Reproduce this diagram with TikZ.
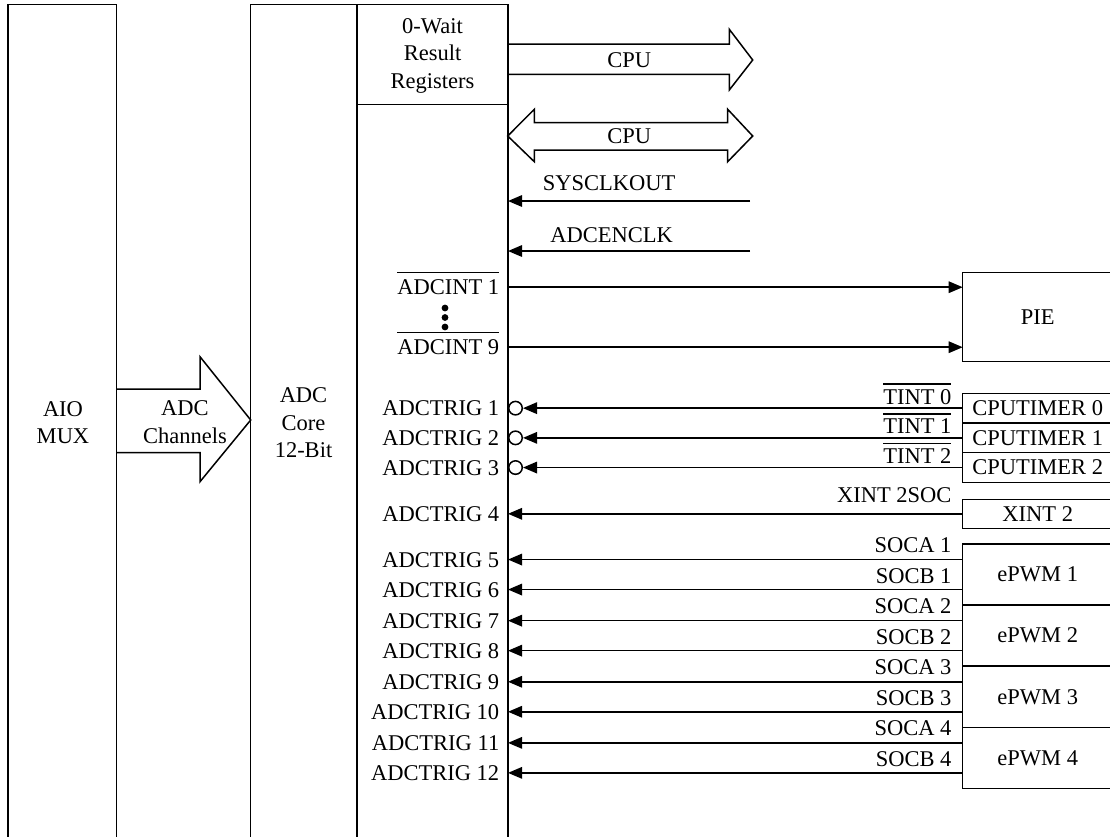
\documentclass[tikz,border=0pt]{standalone}
\usepackage{fontspec}
\setmainfont{Liberation Serif}
\usepackage{tikz}
\usetikzlibrary{arrows.meta,calc,positioning}
\newcommand{\dfont}{\fontsize{22.5}{27.5}\selectfont}
\newcommand{\olbar}[2][7pt]{\vbox{\hrule height 1.3pt\kern#1\hbox{#2}}}

\begin{document}
\begin{tikzpicture}[x=1pt, y=-1pt, >={Triangle[length=14pt,width=11.5pt]}, line width=1.5pt,
  every node/.style={font=\dfont, inner sep=0pt},
  blk/.style={draw, rectangle, anchor=north west, outer sep=0pt},
  lbl/.style={anchor=base east, xshift=-8pt, yshift=-7.5pt},
  srcl/.style={anchor=base east, xshift=-10.5pt, yshift=#1},
  inv/.style={draw, circle, minimum size=13.5pt}]
  \useasboundingbox (0,0) rectangle (1110,836);
  \clip (0,0) rectangle (1110,836);
  % left columns
  \node[blk, minimum width=108.5pt, minimum height=860pt] (aio) at (8,4.3) {};
  \node[blk, minimum width=106.3pt, minimum height=860pt] (core) at (250.7,4.3) {};
  \node[blk, minimum width=151pt, minimum height=100pt] (reg) at (357,4.3) {};
  \node[blk, minimum width=151pt, minimum height=760pt] (ctrl) at (357,104.3) {};
  \node[align=center] (aiot) at (63,422.5) {AIO\\MUX};
  \node[align=center] (coret) at (303.5,423) {ADC\\Core\\12-Bit};
  \node[align=center] (regt) at (432.5,55.5) {0-Wait\\Result\\Registers};
  \draw (116.5,389) -- (200,389) -- (200,356.7) -- (250.7,420) -- (200,481.7) -- (200,452.7) -- (116.5,452.7);
  \node[align=center] (chant) at (185,422) {ADC\\Channels};
  % bus arrows
  \draw (508,44) -- (729.3,44) -- (729.3,29.3) -- (752.7,60) -- (729.3,90) -- (729.3,74.3) -- (508,74.3);
  \node (cpu1) at (629.3,60) {CPU};
  \draw (507.7,136) -- (534.3,109.3) -- (534.3,122.7) -- (727.7,122.7) -- (727.7,109.3) -- (752.7,136)
    -- (727.7,161.7) -- (727.7,150) -- (534.3,150) -- (534.3,161.7) -- cycle;
  \node (cpu2) at (629.3,136.5) {CPU};
  % clocks
  \coordinate (sclk) at (750,201);
  \coordinate (eclk) at (750,251);
  \draw[->] (sclk) -- (sclk -| ctrl.east);
  \draw[->] (eclk) -- (eclk -| ctrl.east);
  \node (sclkt) at (609,183) {SYSCLKOUT};
  \node (eclkt) at (611.5,235) {ADCENCLK};
  % right blocks
  \node[blk, minimum width=150pt, minimum height=89pt] (pie) at (962.7,272.7) {PIE};
  \node[blk, minimum width=150pt, minimum height=29.7pt] (tmr0) at (962.7,393.3) {CPUTIMER 0};
  \node[blk, minimum width=150pt, minimum height=29.7pt, below=0pt of tmr0] (tmr1) {CPUTIMER 1};
  \node[blk, minimum width=150pt, minimum height=29.7pt, below=0pt of tmr1] (tmr2) {CPUTIMER 2};
  \node[blk, minimum width=150pt, minimum height=29pt] (xint) at (962.7,499.3) {XINT 2};
  \node[blk, minimum width=150pt, minimum height=61.1pt] (epwm1) at (962.7,544) {ePWM 1};
  \node[blk, minimum width=150pt, minimum height=61.1pt, below=0pt of epwm1] (epwm2) {ePWM 2};
  \node[blk, minimum width=150pt, minimum height=61.1pt, below=0pt of epwm2] (epwm3) {ePWM 3};
  \node[blk, minimum width=150pt, minimum height=61.1pt, below=0pt of epwm3] (epwm4) {ePWM 4};
  % interrupts
  \draw[->] ([yshift=30pt]pie.west -| ctrl.east) -- ([yshift=30pt]pie.west);
  \draw[->] ([yshift=-30pt]pie.west -| ctrl.east) -- ([yshift=-30pt]pie.west);
  \node[lbl] (int1) at ([yshift=30pt]pie.west -| ctrl.east) {\olbar{ADCINT 1}};
  \node[lbl] (int9) at ([yshift=-30pt]pie.west -| ctrl.east) {\olbar{ADCINT 9}};
  \foreach \y in {308,317.5,327} \fill (445,\y) circle (3.4pt);
  % triggers
  \foreach \t/\k/\j in {tmr0/1/0,tmr1/2/1,tmr2/3/2} {
    \node[inv] (inv\k) at ($(\t.west -| ctrl.east)+(7.5,0)$) {};
    \draw[->] (\t.west) -- (inv\k.east);
    \node[lbl] (trg\k) at (\t.west -| ctrl.east) {ADCTRIG \k};
    \node[srcl=4pt] (tint\j) at (\t.west) {\olbar[4.5pt]{TINT \j}};
  }
  \draw[->] (xint.west) -- (xint.west -| ctrl.east);
  \node[lbl] (trg4) at (xint.west -| ctrl.east) {ADCTRIG 4};
  \node[srcl=11pt] (xsoc) at (xint.west) {XINT 2SOC};
  \foreach \p [evaluate=\p as \ta using int(2*\p+3), evaluate=\p as \tb using int(2*\p+4)] in {1,...,4} {
    \coordinate (sa\p) at ([yshift=15pt]epwm\p.west);
    \coordinate (sb\p) at ([yshift=-15pt]epwm\p.west);
    \draw[->] (sa\p) -- (sa\p -| ctrl.east);
    \draw[->] (sb\p) -- (sb\p -| ctrl.east);
    \node[srcl=7pt] (soca\p) at (sa\p) {SOCA \p};
    \node[srcl=6pt] (socb\p) at (sb\p) {SOCB \p};
    \node[lbl] (trg\ta) at (sa\p -| ctrl.east) {ADCTRIG \ta};
    \node[lbl] (trg\tb) at (sb\p -| ctrl.east) {ADCTRIG \tb};
  }
\end{tikzpicture}
\end{document}
